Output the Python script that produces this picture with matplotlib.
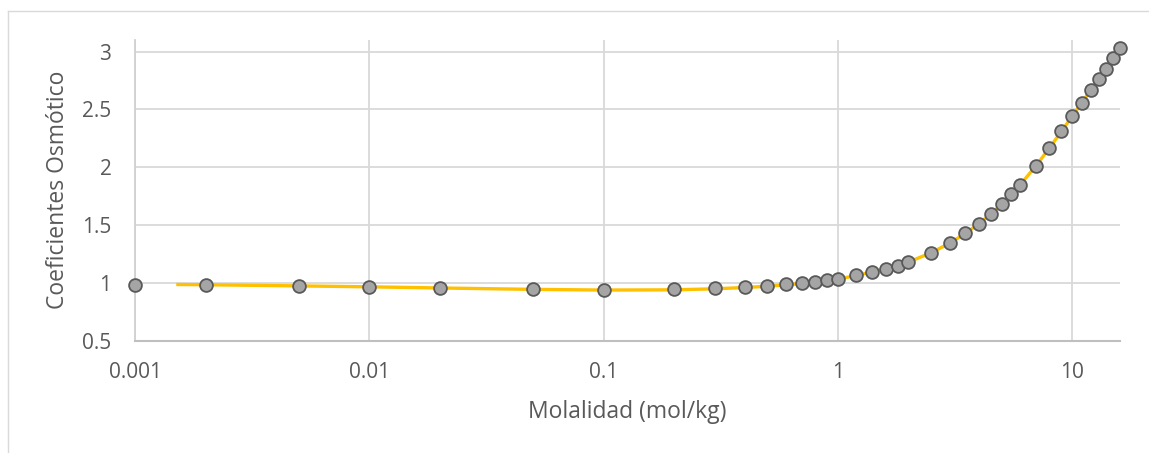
import matplotlib
matplotlib.use("Agg")
import matplotlib.pyplot as plt
from matplotlib.lines import Line2D

# Data
molality = [0.001, 0.002, 0.005, 0.01, 0.02, 0.05, 0.1, 0.2, 0.3, 0.4, 0.5, 0.6,
            0.7, 0.8, 0.9, 1.0, 1.2, 1.4, 1.6, 1.8, 2.0, 2.5, 3.0, 3.5, 4.0, 4.5,
            5.0, 5.5, 6.0, 7.0, 8.0, 9.0, 10, 11, 12, 13, 14, 15, 16]
phi = [0.988, 0.986, 0.974, 0.969, 0.960, 0.948, 0.943, 0.945, 0.954, 0.966, 0.974, 0.989,
       0.997, 1.009, 1.025, 1.036, 1.069, 1.098, 1.124, 1.150, 1.185, 1.263, 1.346, 1.430,
       1.514, 1.597, 1.684, 1.768, 1.851, 2.012, 2.168, 2.310, 2.441, 2.557, 2.667, 2.762,
       2.851, 2.941, 3.028]

# Fitted (yellow) curve, starts slightly after the first point
line_m = [0.0015, 0.002, 0.005, 0.01, 0.02, 0.05, 0.1, 0.2, 0.3, 0.4, 0.5, 0.6,
          0.7, 0.8, 0.9, 1.0, 1.2, 1.4, 1.6, 1.8, 2.0, 2.5, 3.0, 3.5, 4.0, 4.5,
          5.0, 5.5, 6.0, 7.0, 8.0, 9.0, 10, 11, 12, 13, 14, 15, 16]
line_phi = [0.988, 0.986, 0.976, 0.968, 0.958, 0.946, 0.940, 0.942, 0.951, 0.962, 0.973, 0.985,
            0.997, 1.009, 1.022, 1.035, 1.066, 1.096, 1.124, 1.152, 1.182, 1.262, 1.345, 1.429,
            1.513, 1.597, 1.682, 1.766, 1.850, 2.012, 2.168, 2.310, 2.441, 2.557, 2.667, 2.762,
            2.851, 2.941, 3.028]

xticks = [0.001, 0.01, 0.1, 1, 10]
xticklabels = ["0.001", "0.01", "0.1", "1", "10"]
yticks = [0.5, 1, 1.5, 2, 2.5, 3]
yticklabels = ["0.5", "1", "1.5", "2", "2.5", "3"]

W, H = 1149, 453
plt.rcParams['font.family'] = ['Open Sans', 'DejaVu Sans']
fig = plt.figure(figsize=(W / 100, H / 100), dpi=100)

# outer chart border (left and top visible)
fig.add_artist(Line2D([8 / W, 8 / W], [0, 1 - 11 / H], transform=fig.transFigure,
                      color="#D9D9D9", lw=1))
fig.add_artist(Line2D([8 / W, 1], [1 - 11 / H, 1 - 11 / H], transform=fig.transFigure,
                      color="#D9D9D9", lw=1))

ax = fig.add_axes([135 / W, 1 - 341 / H, (1120 - 135) / W, (341 - 40) / H])
ax.set_xscale("log")
ax.set_xlim(0.001, 16)
ax.set_ylim(0.5, 3.1)

ax.plot(line_m, line_phi, color="#FFC000", lw=2.4, zorder=3, solid_capstyle="butt")
ax.plot(molality, phi, linestyle="none", marker="o", markersize=9.2,
        markerfacecolor="#A5A5A5", markeredgecolor="#595959", markeredgewidth=1.3,
        zorder=4, clip_on=False)

ax.set_xticks(xticks)
ax.set_xticklabels(xticklabels)
ax.xaxis.set_minor_locator(matplotlib.ticker.NullLocator())
ax.set_yticks(yticks)
ax.set_yticklabels(yticklabels)

ax.grid(True, which="major", color="#D9D9D9", lw=1.3)
ax.set_axisbelow(True)
for s in ["top", "right"]:
    ax.spines[s].set_visible(False)
ax.spines["bottom"].set_color("#BFBFBF")
ax.spines["bottom"].set_linewidth(1.5)
ax.spines["left"].set_color("#D0D0D0")
ax.spines["left"].set_linewidth(1.3)

ax.tick_params(axis="both", length=0, labelsize=15, colors="#595959")
ax.tick_params(axis="x", pad=15)
ax.tick_params(axis="y", pad=17)

fig.text(627.5 / W, 1 - 412 / H, "Molalidad (mol/kg)", ha="center", va="center",
         fontsize=16.5, color="#595959")
fig.text(58 / W, 1 - 190 / H, "Coeficientes Osmótico", ha="center", va="center",
         rotation=90, fontsize=16.5, color="#595959")

fig.savefig("out.png", dpi=100)
